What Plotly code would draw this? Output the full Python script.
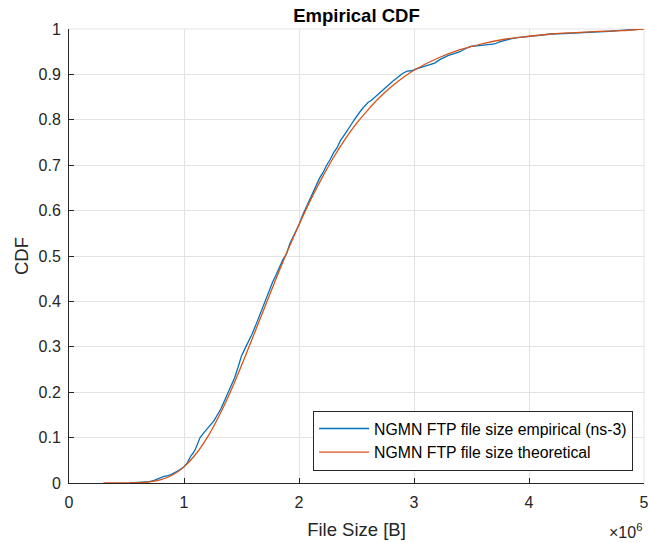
import plotly.graph_objects as go

# Empirical CDF (ns-3 samples), file size in units of 1e6 bytes
emp_x = [0.53, 0.60, 0.65, 0.70, 0.74, 0.78, 0.82, 0.86, 0.90, 0.94, 0.97, 1.00,
         1.03, 1.06, 1.08, 1.10, 1.12, 1.14, 1.17, 1.20, 1.23, 1.26, 1.29, 1.32,
         1.35, 1.38, 1.41, 1.44, 1.47, 1.50, 1.53, 1.56, 1.59, 1.62, 1.65, 1.68,
         1.71, 1.74, 1.77, 1.80, 1.83, 1.86, 1.89, 1.92, 1.95, 1.98, 2.00, 2.03,
         2.06, 2.09, 2.12, 2.15, 2.18, 2.21, 2.24, 2.27, 2.30, 2.33, 2.36, 2.39,
         2.42, 2.45, 2.48, 2.51, 2.54, 2.57, 2.60, 2.63, 2.66, 2.69, 2.72, 2.75,
         2.78, 2.81, 2.84, 2.87, 2.90, 2.94, 2.98, 3.02, 3.06, 3.10, 3.14, 3.18,
         3.22, 3.26, 3.30, 3.35, 3.40, 3.45, 3.50, 3.55, 3.60, 3.65, 3.70, 3.75,
         3.80, 3.85, 3.90, 4.00, 4.10, 4.20, 4.30, 4.40, 4.50, 4.60, 4.70, 4.80,
         4.90, 4.99]
emp_y = [0.000, 0.001, 0.002, 0.003, 0.006, 0.010, 0.014, 0.016, 0.020, 0.026, 0.030, 0.036,
         0.045, 0.060, 0.066, 0.075, 0.090, 0.100, 0.110, 0.118, 0.128, 0.137, 0.150, 0.163,
         0.180, 0.198, 0.215, 0.232, 0.255, 0.280, 0.296, 0.310, 0.327, 0.345, 0.365, 0.386,
         0.404, 0.423, 0.442, 0.458, 0.474, 0.492, 0.504, 0.527, 0.543, 0.558, 0.569, 0.589,
         0.606, 0.620, 0.638, 0.656, 0.672, 0.684, 0.700, 0.712, 0.727, 0.738, 0.754, 0.765,
         0.778, 0.788, 0.800, 0.812, 0.821, 0.830, 0.838, 0.843, 0.850, 0.858, 0.864, 0.870,
         0.877, 0.884, 0.890, 0.897, 0.902, 0.907, 0.908, 0.912, 0.915, 0.919, 0.921, 0.925,
         0.932, 0.937, 0.942, 0.946, 0.950, 0.957, 0.962, 0.963, 0.964, 0.965, 0.967, 0.972,
         0.976, 0.979, 0.981, 0.984, 0.986, 0.989, 0.990, 0.991, 0.992, 0.994, 0.995, 0.997,
         0.998, 1.000]

# Theoretical CDF, file size in units of 1e6 bytes
theo_x = [0.3, 0.4, 0.5, 0.6, 0.7, 0.8, 0.9, 1.0, 1.1, 1.2, 1.3, 1.4, 1.5, 1.6, 1.7,
          1.8, 1.9, 2.0, 2.1, 2.2, 2.3, 2.4, 2.5, 2.6, 2.7, 2.8, 2.9, 3.0, 3.2, 3.4,
          3.6, 3.8, 4.0, 4.2, 4.4, 4.6, 4.8, 5.0]
theo_y = [0.000, 0.000, 0.0001, 0.0005, 0.0023, 0.0073, 0.0176, 0.0355, 0.0627, 0.0994,
          0.1455, 0.199, 0.259, 0.322, 0.386, 0.450, 0.511, 0.569, 0.623, 0.672, 0.717,
          0.757, 0.792, 0.822, 0.849, 0.872, 0.892, 0.909, 0.935, 0.9545, 0.968, 0.978,
          0.984, 0.989, 0.992, 0.9947, 0.9963, 1.000]

x_ticks = [0, 1, 2, 3, 4, 5]
scale = 1e6

names = ["NGMN FTP file size empirical (ns-3)", "NGMN FTP file size theoretical"]

fig = go.Figure()
fig.add_trace(go.Scatter(
    x=[v * scale for v in emp_x], y=emp_y, mode="lines", name=names[0],
    line=dict(color="#0072BD", width=1.3)))
fig.add_trace(go.Scatter(
    x=[v * scale for v in theo_x], y=theo_y, mode="lines", name=names[1],
    line=dict(color="#D95319", width=1.3, shape="spline")))

font_family = "Liberation Sans, Arial, sans-serif"
axis_color = "#262626"
grid_color = "#E3E3E3"

fig.update_layout(
    width=648, height=543,
    margin=dict(l=69, r=4, t=29, b=60, autoexpand=False),
    paper_bgcolor="white", plot_bgcolor="white",
    font=dict(family=font_family, color=axis_color, size=16),
    title=dict(text="<b>Empirical CDF</b>", xref="paper", x=0.5, xanchor="center",
               yref="container", y=1 - 16 / 543, yanchor="middle",
               font=dict(size=18.5, color="black")),
    showlegend=True,
    legend=dict(x=0.981, xanchor="right", y=0.027, yanchor="bottom",
                bgcolor="white", bordercolor="#262626", borderwidth=1,
                font=dict(size=15.8, color="black"), tracegroupgap=0,
                itemwidth=50),
    shapes=[
        dict(type="line", xref="paper", yref="paper", x0=0, x1=1, y0=1, y1=1,
             line=dict(color=grid_color, width=1), layer="below"),
        dict(type="line", xref="paper", yref="paper", x0=1, x1=1, y0=0, y1=1,
             line=dict(color=grid_color, width=1), layer="below"),
    ],
)
fig.update_xaxes(
    range=[0, 5 * scale], tickvals=[t * scale for t in x_ticks],
    ticktext=[str(t) for t in x_ticks], automargin=False,
    ticklabeloverflow="allow",
    showline=True, linecolor=axis_color, linewidth=1,
    ticks="inside", ticklen=5, tickcolor=axis_color,
    showgrid=True, gridcolor=grid_color, gridwidth=1, zeroline=False,
    tickfont=dict(size=16), ticklabelstandoff=5,
    title=dict(text="File Size [B]", font=dict(size=18.5), standoff=12),
)
fig.update_yaxes(
    range=[0, 1], dtick=0.1, tick0=0, automargin=False,
    ticklabeloverflow="allow",
    showline=True, linecolor=axis_color, linewidth=1,
    ticks="inside", ticklen=5, tickcolor=axis_color,
    showgrid=True, gridcolor=grid_color, gridwidth=1, zeroline=False,
    tickfont=dict(size=16), ticklabelstandoff=4,
    title=dict(text="CDF", font=dict(size=18.5), standoff=5),
)
fig.add_annotation(text="×10<sup>6</sup>", xref="paper", yref="paper",
                   x=1.0, y=-0.08, xanchor="right", yanchor="top", showarrow=False,
                   font=dict(size=16, color=axis_color))
fig.write_html("out.html", config={"displayModeBar": False},
               post_script="document.body.style.margin='0';document.body.style.overflow='hidden';")
